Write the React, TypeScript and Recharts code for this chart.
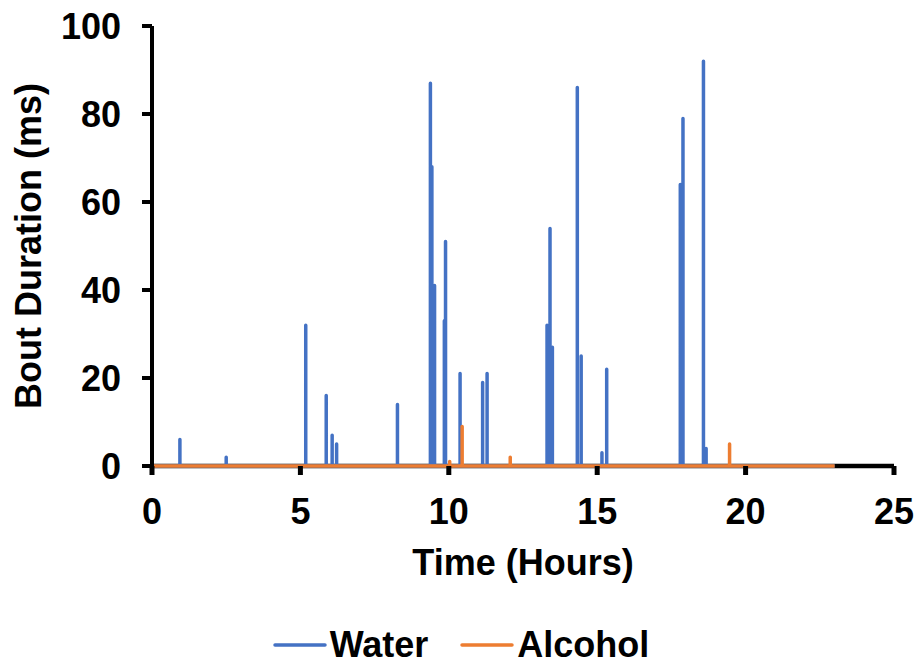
import { LineChart, Line, XAxis, YAxis, Legend, Label } from 'recharts';

// bout onsets (hours) and durations (ms)
const waterTimes = [0.94, 2.5, 5.18, 5.87, 6.07, 6.22, 8.27, 9.38, 9.43, 9.52, 9.85, 9.89, 10.38, 11.14, 11.29, 13.31, 13.41, 13.49, 14.33, 14.46, 15.16, 15.32, 17.8, 17.89, 18.58, 18.67];
const waterValues = [6, 2, 32, 16, 7, 5, 14, 87, 68, 41, 33, 51, 21, 19, 21, 32, 54, 27, 86, 25, 3, 22, 64, 79, 92, 4];

const alcoholTimes = [10.03, 10.45, 12.07, 19.46];
const alcoholValues = [1, 9, 2, 5];

const recordStart = 0;
const recordEnd = 23;

const xDomain = [0, 25];
const xTicks = [0, 5, 10, 15, 20, 25];
const yTicks = [0, 20, 40, 60, 80, 100];

const BLUE = '#4472C4';
const ORANGE = '#ED7D31';
const FONT = '"Liberation Sans", Arial, sans-serif';

// baseline at 0 with a spike for every bout
function buildSeries(times: number[], values: number[]) {
  const pts: { t: number; v: number }[] = [{ t: recordStart, v: 0 }];
  times.forEach((t, i) => {
    pts.push({ t, v: 0 });
    pts.push({ t, v: values[i] });
    pts.push({ t, v: 0 });
  });
  pts.push({ t: recordEnd, v: 0 });
  return pts;
}

const waterData = buildSeries(waterTimes, waterValues);
const alcoholData = buildSeries(alcoholTimes, alcoholValues);
// x axis line drawn as a series so the data lines sit on top of it
const axisData = xDomain.map((t) => ({ t, v: 0 }));

const tickStyle = { fill: '#000', fontSize: 36, fontWeight: 'bold', fontFamily: FONT };

function LegendBox() {
  const item = (color: string, name: string) => (
    <div style={{ display: 'flex', alignItems: 'center' }}>
      <svg width={54} height={6} style={{ marginRight: 3 }}>
        <line x1={2} y1={3} x2={52} y2={3} stroke={color} strokeWidth={3.5} strokeLinecap="round" />
      </svg>
      <span style={{ fontSize: 36, fontWeight: 'bold', fontFamily: FONT, color: '#000' }}>{name}</span>
    </div>
  );
  return (
    <div style={{ width: 922, height: 42, display: 'flex', justifyContent: 'center', alignItems: 'center', gap: 32 }}>
      {item(BLUE, 'Water')}
      {item(ORANGE, 'Alcohol')}
    </div>
  );
}

export default function App() {
  return (
    <div style={{ position: 'absolute', left: 0, top: 0, background: '#fff' }}>
      <LineChart width={922} height={666} margin={{ top: 26, right: 28, left: 0, bottom: 0 }}>
        <XAxis
          type="number"
          dataKey="t"
          domain={xDomain}
          ticks={xTicks}
          interval={0}
          height={158}
          tick={tickStyle}
          tickSize={9}
          tickMargin={23}
          axisLine={false}
          tickLine={{ stroke: '#000', strokeWidth: 5 }}
        >
          <Label
            value="Time (Hours)"
            position="insideTop"
            offset={83}
            style={{ fill: '#000', fontSize: 36, fontWeight: 'bold', fontFamily: FONT }}
          />
        </XAxis>
        <YAxis
          type="number"
          domain={[0, 100]}
          ticks={yTicks}
          interval={0}
          width={152}
          tick={tickStyle}
          tickSize={10}
          tickMargin={21}
          axisLine={{ stroke: '#000', strokeWidth: 4 }}
          tickLine={{ stroke: '#000', strokeWidth: 4 }}
        >
          <Label
            content={({ viewBox }: any) => {
              const cx = viewBox.x + 41;
              const cy = viewBox.y + viewBox.height / 2;
              return (
                <text
                  x={cx}
                  y={cy}
                  transform={`rotate(-90 ${cx} ${cy})`}
                  textAnchor="middle"
                  fill="#000"
                  fontSize={36}
                  fontWeight="bold"
                  fontFamily={FONT}
                >
                  Bout Duration (ms)
                </text>
              );
            }}
          />
        </YAxis>
        <Line
          data={axisData}
          dataKey="v"
          type="linear"
          stroke="#000"
          strokeWidth={4.5}
          dot={false}
          activeDot={false}
          legendType="none"
          isAnimationActive={false}
        />
        <Line
          data={waterData}
          dataKey="v"
          name="Water"
          type="linear"
          stroke={BLUE}
          strokeWidth={3.5}
          strokeLinejoin="round"
          dot={false}
          activeDot={false}
          isAnimationActive={false}
        />
        <Line
          data={alcoholData}
          dataKey="v"
          name="Alcohol"
          type="linear"
          stroke={ORANGE}
          strokeWidth={3.5}
          strokeLinejoin="round"
          dot={false}
          activeDot={false}
          isAnimationActive={false}
        />
        <Legend
          verticalAlign="bottom"
          wrapperStyle={{ left: 0, width: 922 }}
          content={() => <LegendBox />}
        />
      </LineChart>
    </div>
  );
}
